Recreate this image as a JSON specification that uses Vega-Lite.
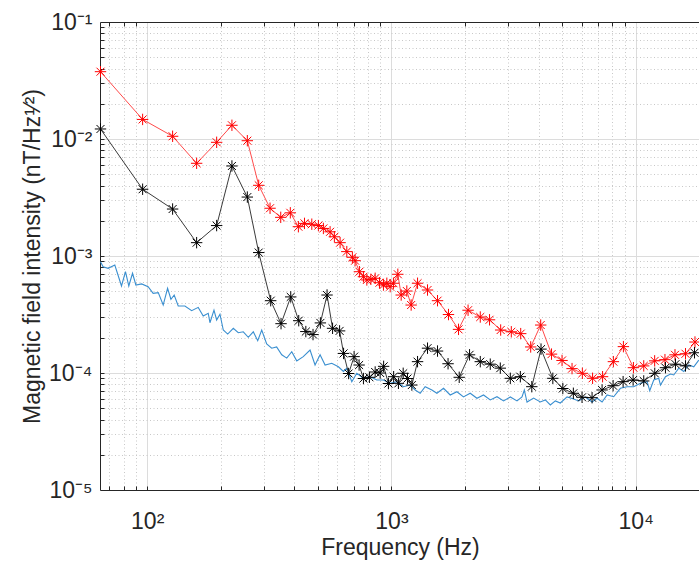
{
  "$schema": "https://vega.github.io/schema/vega-lite/v6.json",
  "autosize": {"type": "none"},
  "padding": {"left": 100, "top": 22, "right": 0, "bottom": 78},
  "width": 600,
  "height": 468,
  "background": "white",
  "view": {"stroke": null},
  "config": {
    "axis": {
      "labelFont": "Liberation Sans",
      "titleFont": "Liberation Sans",
      "labelFontSize": 23,
      "titleFontSize": 23,
      "labelColor": "#262626",
      "titleColor": "#262626",
      "titleFontWeight": "normal",
      "domainColor": "#262626",
      "tickColor": "#262626"
    }
  },
  "datasets": {
    "blue": [
      {"f":64.4,"v":0.000893},{"f":66.0,"v":0.000810},{"f":69.2,"v":0.000785},{"f":73.7,"v":0.000838},
      {"f":78.5,"v":0.000554},{"f":81.5,"v":0.000734},{"f":84.1,"v":0.000554},{"f":87.1,"v":0.000711},
      {"f":89.9,"v":0.000565},{"f":94.9,"v":0.000577},{"f":100.9,"v":0.000547},{"f":105.8,"v":0.000480},
      {"f":111.0,"v":0.000486},{"f":116.3,"v":0.000381},{"f":121.2,"v":0.000530},{"f":125.1,"v":0.000427},
      {"f":129.0,"v":0.000464},{"f":134.0,"v":0.000374},{"f":142.7,"v":0.000374},{"f":152.1,"v":0.000341},
      {"f":161.8,"v":0.000364},{"f":169.6,"v":0.000307},{"f":177.8,"v":0.000324},{"f":180.7,"v":0.000269},
      {"f":187.7,"v":0.000345},{"f":192.5,"v":0.000284},{"f":198.6,"v":0.000318},{"f":204.9,"v":0.000233},
      {"f":213.6,"v":0.000215},{"f":225.2,"v":0.000241},{"f":236.0,"v":0.000221},{"f":247.4,"v":0.000225},
      {"f":259.4,"v":0.000202},{"f":271.9,"v":0.000225},{"f":283.5,"v":0.000189},{"f":294.4,"v":0.000233},
      {"f":308.5,"v":0.000177},{"f":323.4,"v":0.000163},{"f":338.8,"v":0.000167},{"f":355.6,"v":0.000143},
      {"f":372.7,"v":0.000134},{"f":390.7,"v":0.000152},{"f":409.6,"v":0.000127},{"f":435.5,"v":0.000138},
      {"f":464.3,"v":0.000157},{"f":486.7,"v":0.000117},{"f":510.3,"v":0.000143},{"f":535.0,"v":0.000117},
      {"f":569.8,"v":0.000121},{"f":606.5,"v":0.000113},{"f":635.8,"v":0.000103},{"f":656.5,"v":0.000110},
      {"f":688.2,"v":0.0000843},{"f":721.4,"v":0.0000994},{"f":767.9,"v":0.0000901},{"f":817.9,"v":0.0000930},
      {"f":871.2,"v":0.0000871},{"f":927.3,"v":0.0000871},{"f":987.9,"v":0.0000816},{"f":1052,"v":0.0000843},
      {"f":1120,"v":0.0000764},{"f":1193,"v":0.0000789},{"f":1251,"v":0.0000716},{"f":1311,"v":0.0000671},
      {"f":1374,"v":0.0000764},{"f":1464,"v":0.0000716},{"f":1535,"v":0.0000671},{"f":1634,"v":0.0000740},
      {"f":1740,"v":0.0000649},{"f":1854,"v":0.0000692},{"f":1972,"v":0.0000624},{"f":2101,"v":0.0000671},
      {"f":2239,"v":0.0000608},{"f":2382,"v":0.0000649},{"f":2538,"v":0.0000588},{"f":2704,"v":0.0000627},
      {"f":2877,"v":0.0000577},{"f":3066,"v":0.0000624},{"f":3266,"v":0.0000577},{"f":3423,"v":0.0000624},
      {"f":3499,"v":0.0000716},{"f":3589,"v":0.0000565},{"f":3819,"v":0.0000611},{"f":4069,"v":0.0000565},
      {"f":4265,"v":0.0000588},{"f":4471,"v":0.0000533},{"f":4688,"v":0.0000577},{"f":4913,"v":0.0000554},
      {"f":5236,"v":0.0000624},{"f":5572,"v":0.0000600},{"f":5840,"v":0.0000577},{"f":6223,"v":0.0000624},
      {"f":6627,"v":0.0000565},{"f":6947,"v":0.0000608},{"f":7283,"v":0.0000565},{"f":7636,"v":0.0000649},
      {"f":8125,"v":0.0000627},{"f":8657,"v":0.0000740},{"f":9222,"v":0.0000764},{"f":9813,"v":0.0000764},
      {"f":10455,"v":0.0000816},{"f":11137,"v":0.0000843},{"f":11413,"v":0.0000706},{"f":11853,"v":0.0000871},
      {"f":12426,"v":0.0000901},{"f":12625,"v":0.0000789},{"f":13235,"v":0.0000930},{"f":13874,"v":0.0000981},
      {"f":14312,"v":0.0000962},{"f":15003,"v":0.000110},{"f":15729,"v":0.000103},{"f":16489,"v":0.000117},
      {"f":17286,"v":0.000113},{"f":18121,"v":0.000129}
    ],
    "red": [
      {"f":64.4,"v":0.0376},{"f":95.8,"v":0.0147},{"f":127.1,"v":0.01055},{"f":159.4,"v":0.0062},
      {"f":192.5,"v":0.00937},{"f":222.3,"v":0.0131},{"f":257.0,"v":0.00967},{"f":286.2,"v":0.00402},
      {"f":318.4,"v":0.00256},{"f":352.2,"v":0.00214},{"f":385.5,"v":0.00234},{"f":415.9,"v":0.00178},
      {"f":440.6,"v":0.0019},{"f":472.0,"v":0.00187},{"f":502.2,"v":0.00182},{"f":526.4,"v":0.00172},
      {"f":560.8,"v":0.00161},{"f":583.9,"v":0.00146},{"f":616.3,"v":0.0013},{"f":656.5,"v":0.00109},
      {"f":692.0,"v":0.000975},{"f":709.8,"v":0.000912},{"f":739.4,"v":0.000734},{"f":767.9,"v":0.000665},
      {"f":793.0,"v":0.000624},{"f":823.6,"v":0.000632},{"f":857.7,"v":0.000645},{"f":893.2,"v":0.000591},
      {"f":927.3,"v":0.000565},{"f":957.5,"v":0.000585},{"f":987.9,"v":0.000547},{"f":1019,"v":0.000585},
      {"f":1062,"v":0.000698},{"f":1096,"v":0.000464},{"f":1156,"v":0.000502},{"f":1204,"v":0.000381},
      {"f":1279,"v":0.000585},{"f":1405,"v":0.000512},{"f":1544,"v":0.000415},{"f":1712,"v":0.000316},
      {"f":1882,"v":0.000236},{"f":2059,"v":0.000344},{"f":2310,"v":0.000301},{"f":2521,"v":0.000285},
      {"f":2800,"v":0.000233},{"f":3095,"v":0.000225},{"f":3382,"v":0.000217},{"f":3716,"v":0.000167},
      {"f":4083,"v":0.000257},{"f":4522,"v":0.000145},{"f":4993,"v":0.000128},{"f":5487,"v":0.000109},
      {"f":6047,"v":0.0000994},{"f":6659,"v":0.0000901},{"f":7317,"v":0.000093},{"f":8102,"v":0.000125},
      {"f":8904,"v":0.000168},{"f":9786,"v":0.000111},{"f":10785,"v":0.000115},{"f":11955,"v":0.000127},
      {"f":13174,"v":0.00013},{"f":14480,"v":0.000143},{"f":15987,"v":0.000146},{"f":17483,"v":0.000184}
    ],
    "black": [
      {"f":64.4,"v":0.01218},{"f":95.8,"v":0.00372},{"f":127.1,"v":0.00252},{"f":159.4,"v":0.0013},
      {"f":192.5,"v":0.00182},{"f":222.3,"v":0.00588},{"f":257.0,"v":0.00319},{"f":286.2,"v":0.00107},
      {"f":320.4,"v":0.000415},{"f":353.2,"v":0.000264},{"f":387.0,"v":0.000447},{"f":417.3,"v":0.00028},
      {"f":446.2,"v":0.000226},{"f":477.5,"v":0.000213},{"f":511.7,"v":0.000268},{"f":545.0,"v":0.000464},
      {"f":574.1,"v":0.000241},{"f":613.4,"v":0.000229},{"f":636.9,"v":0.000147},{"f":667.7,"v":0.000099},
      {"f":703.2,"v":0.000138},{"f":737.2,"v":0.000117},{"f":767.9,"v":0.0000897},{"f":812.5,"v":0.0000919},
      {"f":857.7,"v":0.000102},{"f":898.9,"v":0.0001},{"f":929.0,"v":0.000114},{"f":972.0,"v":0.0000813},
      {"f":1021,"v":0.000093},{"f":1068,"v":0.0000816},{"f":1117,"v":0.0000994},{"f":1163,"v":0.0000897},
      {"f":1212,"v":0.0000789},{"f":1279,"v":0.000125},{"f":1405,"v":0.000163},{"f":1544,"v":0.000154},
      {"f":1705,"v":0.00012},{"f":1894,"v":0.0000919},{"f":2088,"v":0.000143},{"f":2310,"v":0.000125},
      {"f":2538,"v":0.000119},{"f":2790,"v":0.00011},{"f":3066,"v":0.0000901},{"f":3370,"v":0.000093},
      {"f":3755,"v":0.0000764},{"f":4096,"v":0.00016},{"f":4578,"v":0.0000901},{"f":5030,"v":0.0000737},
      {"f":5555,"v":0.0000671},{"f":6029,"v":0.000062},{"f":6627,"v":0.0000615},{"f":7283,"v":0.0000716},
      {"f":8080,"v":0.0000779},{"f":8880,"v":0.0000843},{"f":9757,"v":0.0000871},{"f":10785,"v":0.0000855},
      {"f":11966,"v":0.0000994},{"f":13235,"v":0.000111},{"f":14547,"v":0.000119},{"f":15987,"v":0.000115},
      {"f":17403,"v":0.000149}
    ]
  },
  "resolve": {"axis": {"x": "independent", "y": "independent"}},
  "layer": [
    {
      "data": {"name": "blue"},
      "mark": {"type": "line", "color": "#3a8fd0", "strokeWidth": 1.1},
      "encoding": {
        "x": {"field": "f", "type": "quantitative",
          "scale": {"type": "log", "domain": [64.1, 18330], "nice": false},
          "axis": {"orient": "top", "values": [70,80,90,200,300,400,500,600,700,800,900,2000,3000,4000,5000,6000,7000,8000,9000],
            "grid": true, "gridDash": [1, 2.5], "gridColor": "#c8c8c8", "labels": false, "ticks": true, "tickSize": -4, "domain": true, "title": null}},
        "y": {"field": "v", "type": "quantitative",
          "scale": {"type": "log", "domain": [0.00001, 0.1], "nice": false},
          "axis": {"orient": "right", "values": [0.00002,0.00003,0.00004,0.00005,0.00006,0.00007,0.00008,0.00009,0.0002,0.0003,0.0004,0.0005,0.0006,0.0007,0.0008,0.0009,0.002,0.003,0.004,0.005,0.006,0.007,0.008,0.009,0.02,0.03,0.04,0.05,0.06,0.07,0.08,0.09],
            "grid": true, "gridDash": [1, 2.5], "gridColor": "#c8c8c8", "labels": false, "ticks": false, "domain": false, "title": null}}
      }
    },
    {
      "data": {"name": "red"},
      "mark": {"type": "line", "color": "#ff4a4a", "strokeWidth": 1},
      "encoding": {
        "x": {"field": "f", "type": "quantitative",
          "axis": {"orient": "bottom", "values": [100, 1000, 10000], "grid": true, "gridColor": "#dcdcdc", "ticks": false,
            "labelPadding": 20, "labelExpr": "datum.value < 500 ? '10²' : datum.value < 5000 ? '10³' : '10⁴'",
            "title": "Frequency (Hz)", "titlePadding": 3, "domain": true}},
        "y": {"field": "v", "type": "quantitative",
          "axis": {"orient": "left", "values": [0.00001, 0.0001, 0.001, 0.01, 0.1], "grid": true, "gridColor": "#dcdcdc", "ticks": false,
            "labelPadding": 8,
            "labelExpr": "datum.value > 0.05 ? '10⁻¹' : datum.value > 0.005 ? '10⁻²' : datum.value > 0.0005 ? '10⁻³' : datum.value > 0.00005 ? '10⁻⁴' : '10⁻⁵'",
            "title": "Magnetic field intensity (nT/Hz¹⁄²)", "titlePadding": 4, "domain": true}}
      }
    },
    {
      "data": {"name": "red"},
      "mark": {"type": "point", "shape": "M-1,0L1,0M0,-1L0,1M-0.7,-0.7L0.7,0.7M-0.7,0.7L0.7,-0.7", "filled": false, "color": "#ff0000", "size": 130, "strokeWidth": 1, "opacity": 1},
      "encoding": {
        "x": {"field": "f", "type": "quantitative", "axis": null},
        "y": {"field": "v", "type": "quantitative", "axis": null}
      }
    },
    {
      "data": {"name": "black"},
      "mark": {"type": "line", "color": "#3a3a3a", "strokeWidth": 1},
      "encoding": {
        "x": {"field": "f", "type": "quantitative",
          "axis": {"orient": "bottom", "values": [70,80,90,100,200,300,400,500,600,700,800,900,1000,2000,3000,4000,5000,6000,7000,8000,9000,10000],
            "grid": false, "labels": false, "ticks": true, "tickSize": -4, "domain": false, "title": null}},
        "y": {"field": "v", "type": "quantitative",
          "axis": {"orient": "left", "values": [0.00002,0.00003,0.00004,0.00005,0.00006,0.00007,0.00008,0.00009,0.0001,0.0002,0.0003,0.0004,0.0005,0.0006,0.0007,0.0008,0.0009,0.001,0.002,0.003,0.004,0.005,0.006,0.007,0.008,0.009,0.01,0.02,0.03,0.04,0.05,0.06,0.07,0.08,0.09],
            "grid": false, "labels": false, "ticks": true, "tickSize": -4, "domain": false, "title": null}}
      }
    },
    {
      "data": {"name": "black"},
      "mark": {"type": "point", "shape": "M-1,0L1,0M0,-1L0,1M-0.7,-0.7L0.7,0.7M-0.7,0.7L0.7,-0.7", "filled": false, "color": "#000000", "size": 130, "strokeWidth": 1, "opacity": 1},
      "encoding": {
        "x": {"field": "f", "type": "quantitative", "axis": null},
        "y": {"field": "v", "type": "quantitative", "axis": null}
      }
    }
  ]
}
